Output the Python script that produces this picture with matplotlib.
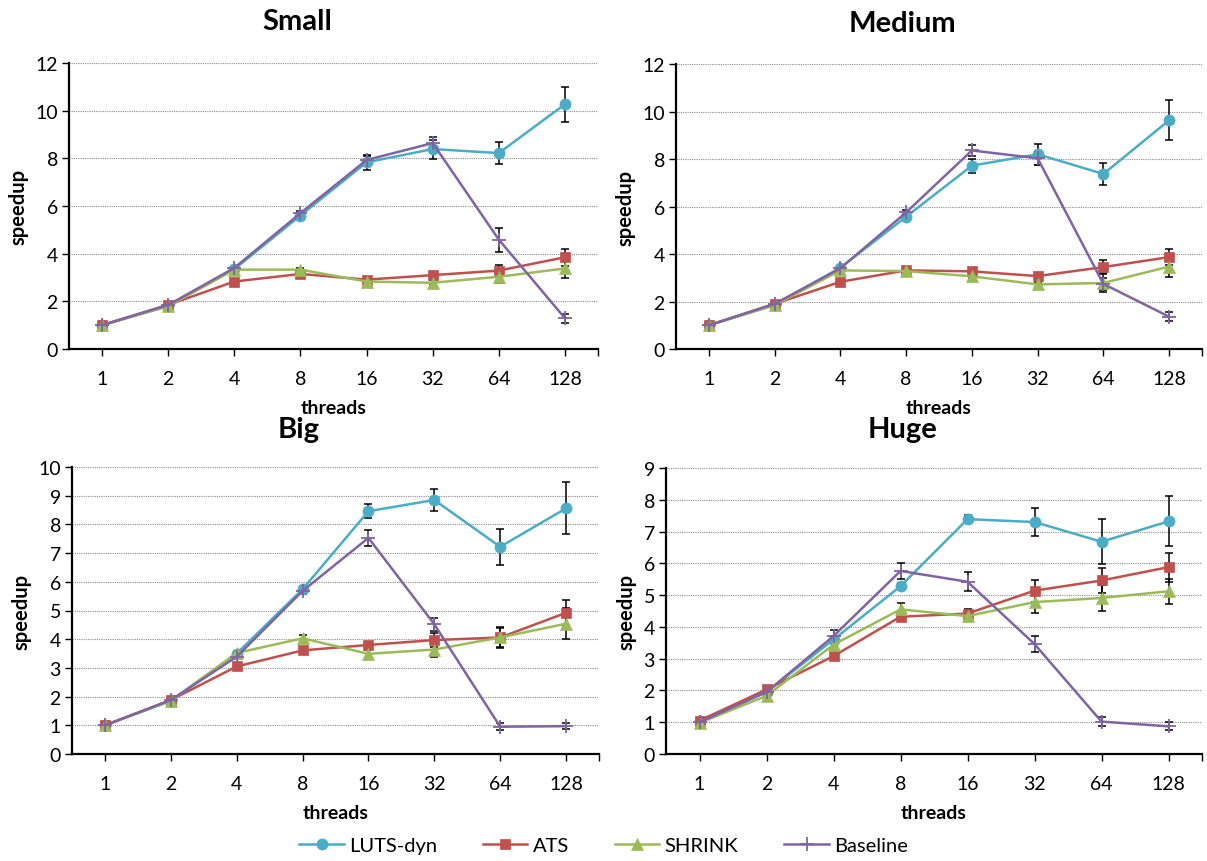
import matplotlib.pyplot as plt
import numpy as np

plt.rcParams['font.family'] = ['Lato', 'DejaVu Sans']

threads = ['1', '2', '4', '8', '16', '32', '64', '128']
series_names = ['LUTS-dyn', 'ATS', 'SHRINK', 'Baseline']

# Small
small_luts = [1.0, 1.80, 3.35, 5.60, 7.83, 8.39, 8.22, 10.27]
small_luts_err = [0.03, 0.05, 0.08, 0.10, 0.30, 0.40, 0.47, 0.73]
small_ats = [1.0, 1.85, 2.83, 3.15, 2.91, 3.10, 3.29, 3.85]
small_ats_err = [0.03, 0.05, 0.06, 0.08, 0.08, 0.10, 0.25, 0.35]
small_shrink = [1.0, 1.80, 3.33, 3.33, 2.83, 2.78, 3.03, 3.38]
small_shrink_err = [0.03, 0.05, 0.06, 0.08, 0.08, 0.10, 0.25, 0.40]
small_base = [1.0, 1.85, 3.40, 5.70, 7.93, 8.64, 4.59, 1.29]
small_base_err = [0.03, 0.05, 0.06, 0.10, 0.15, 0.25, 0.50, 0.19]

# Medium
medium_luts = [1.0, 1.85, 3.42, 5.57, 7.72, 8.20, 7.37, 9.63]
medium_luts_err = [0.03, 0.05, 0.08, 0.10, 0.30, 0.44, 0.47, 0.84]
medium_ats = [1.0, 1.90, 2.83, 3.31, 3.27, 3.07, 3.45, 3.87]
medium_ats_err = [0.03, 0.05, 0.06, 0.08, 0.08, 0.10, 0.30, 0.35]
medium_shrink = [1.0, 1.85, 3.31, 3.28, 3.06, 2.72, 2.78, 3.47]
medium_shrink_err = [0.03, 0.05, 0.06, 0.08, 0.08, 0.10, 0.40, 0.42]
medium_base = [1.0, 1.90, 3.40, 5.75, 8.36, 8.03, 2.74, 1.36]
medium_base_err = [0.03, 0.05, 0.06, 0.12, 0.22, 0.30, 0.25, 0.19]

# Big
big_luts = [1.0, 1.85, 3.50, 5.74, 8.46, 8.85, 7.22, 8.56]
big_luts_err = [0.03, 0.05, 0.08, 0.10, 0.25, 0.38, 0.63, 0.91]
big_ats = [1.0, 1.88, 3.05, 3.61, 3.80, 3.97, 4.06, 4.92]
big_ats_err = [0.03, 0.05, 0.06, 0.06, 0.10, 0.25, 0.35, 0.45]
big_shrink = [1.0, 1.85, 3.52, 4.03, 3.49, 3.64, 4.06, 4.54]
big_shrink_err = [0.03, 0.05, 0.06, 0.10, 0.15, 0.25, 0.32, 0.55]
big_base = [1.0, 1.88, 3.39, 5.68, 7.53, 4.52, 0.95, 0.97]
big_base_err = [0.03, 0.05, 0.08, 0.10, 0.27, 0.22, 0.12, 0.10]

# Huge
huge_luts = [1.05, 1.95, 3.60, 5.28, 7.39, 7.30, 6.68, 7.32]
huge_luts_err = [0.03, 0.05, 0.10, 0.10, 0.13, 0.45, 0.70, 0.79]
huge_ats = [1.05, 2.03, 3.08, 4.32, 4.42, 5.14, 5.46, 5.88]
huge_ats_err = [0.03, 0.05, 0.06, 0.15, 0.15, 0.35, 0.40, 0.46]
huge_shrink = [0.98, 1.83, 3.44, 4.55, 4.34, 4.78, 4.91, 5.12]
huge_shrink_err = [0.03, 0.05, 0.08, 0.20, 0.15, 0.33, 0.41, 0.39]
huge_base = [1.0, 1.95, 3.71, 5.76, 5.42, 3.46, 1.02, 0.87]
huge_base_err = [0.03, 0.05, 0.19, 0.25, 0.30, 0.25, 0.15, 0.13]

colors = ['#4BACC6', '#C0504D', '#9BBB59', '#8064A2']
markers = ['o', 's', '^', '+']
msizes = [8, 7, 8, 10]

panels = [
    ('Small', [small_luts, small_ats, small_shrink, small_base],
     [small_luts_err, small_ats_err, small_shrink_err, small_base_err], 12, 2,
     [69, 598, 64, 350], (297, 22)),
    ('Medium', [medium_luts, medium_ats, medium_shrink, medium_base],
     [medium_luts_err, medium_ats_err, medium_shrink_err, medium_base_err], 12, 2,
     [676, 1202, 65, 350], (902, 24)),
    ('Big', [big_luts, big_ats, big_shrink, big_base],
     [big_luts_err, big_ats_err, big_shrink_err, big_base_err], 10, 1,
     [72, 599, 468, 755], (299, 430)),
    ('Huge', [huge_luts, huge_ats, huge_shrink, huge_base],
     [huge_luts_err, huge_ats_err, huge_shrink_err, huge_base_err], 9, 1,
     [666, 1202, 469, 755], (903, 430)),
]

W, H = 1207, 862
fig = plt.figure(figsize=(W / 100, H / 100), dpi=100)

x = np.arange(len(threads))
handles = []
for title, ys, errs, ymax, ystep, (l, r, t, b), (tx, ty) in panels:
    ax = fig.add_axes([l / W, 1 - b / H, (r - l) / W, (b - t) / H])
    for i in range(4):
        ax.errorbar(x, ys[i], yerr=errs[i], fmt='none', ecolor='black',
                    elinewidth=1.1, capsize=3, capthick=1.1, zorder=3)
    for i in range(4):
        h, = ax.plot(x, ys[i], color=colors[i], marker=markers[i],
                     markersize=msizes[i], markeredgewidth=1.3 if markers[i] == '+' else 0.5,
                     markeredgecolor=colors[i], linewidth=1.8, zorder=4 + i,
                     label=series_names[i])
        if title == 'Small':
            handles.append(h)
    ax.set_xlim(-0.5, 7.5)
    ax.set_ylim(0, ymax)
    ax.set_yticks(np.arange(0, ymax + 0.1, ystep))
    ax.set_xticks(x)
    ax.set_xticklabels(threads)
    ax.set_xticks([7.5], minor=True)
    ax.tick_params(axis='x', which='both', direction='out', length=5, width=1,
                   labelsize=14, pad=10)
    ax.tick_params(axis='y', direction='out', length=5, width=1, labelsize=14, pad=3)
    ax.grid(axis='y', linestyle=(0, (1, 1)), color='#8c8c8c', linewidth=0.8)
    ax.set_axisbelow(True)
    for s in ['top', 'right']:
        ax.spines[s].set_visible(False)
    ax.spines['left'].set_linewidth(1.6)
    ax.spines['bottom'].set_linewidth(1.6)
    ax.set_xlabel('threads', fontsize=14, fontweight='bold', labelpad=9)
    ax.set_ylabel('speedup', fontsize=14.5, fontweight='bold', labelpad=5)
    fig.text(tx / W, 1 - ty / H, title, fontsize=21, fontweight='bold',
             ha='center', va='center')

fig.legend(handles=handles, loc='center', bbox_to_anchor=(0.5, 1 - 846 / H),
           ncol=4, frameon=False, fontsize=14.5, handlelength=2.2,
           columnspacing=2.3, handletextpad=0.25)

fig.savefig('out.png', dpi=100)
